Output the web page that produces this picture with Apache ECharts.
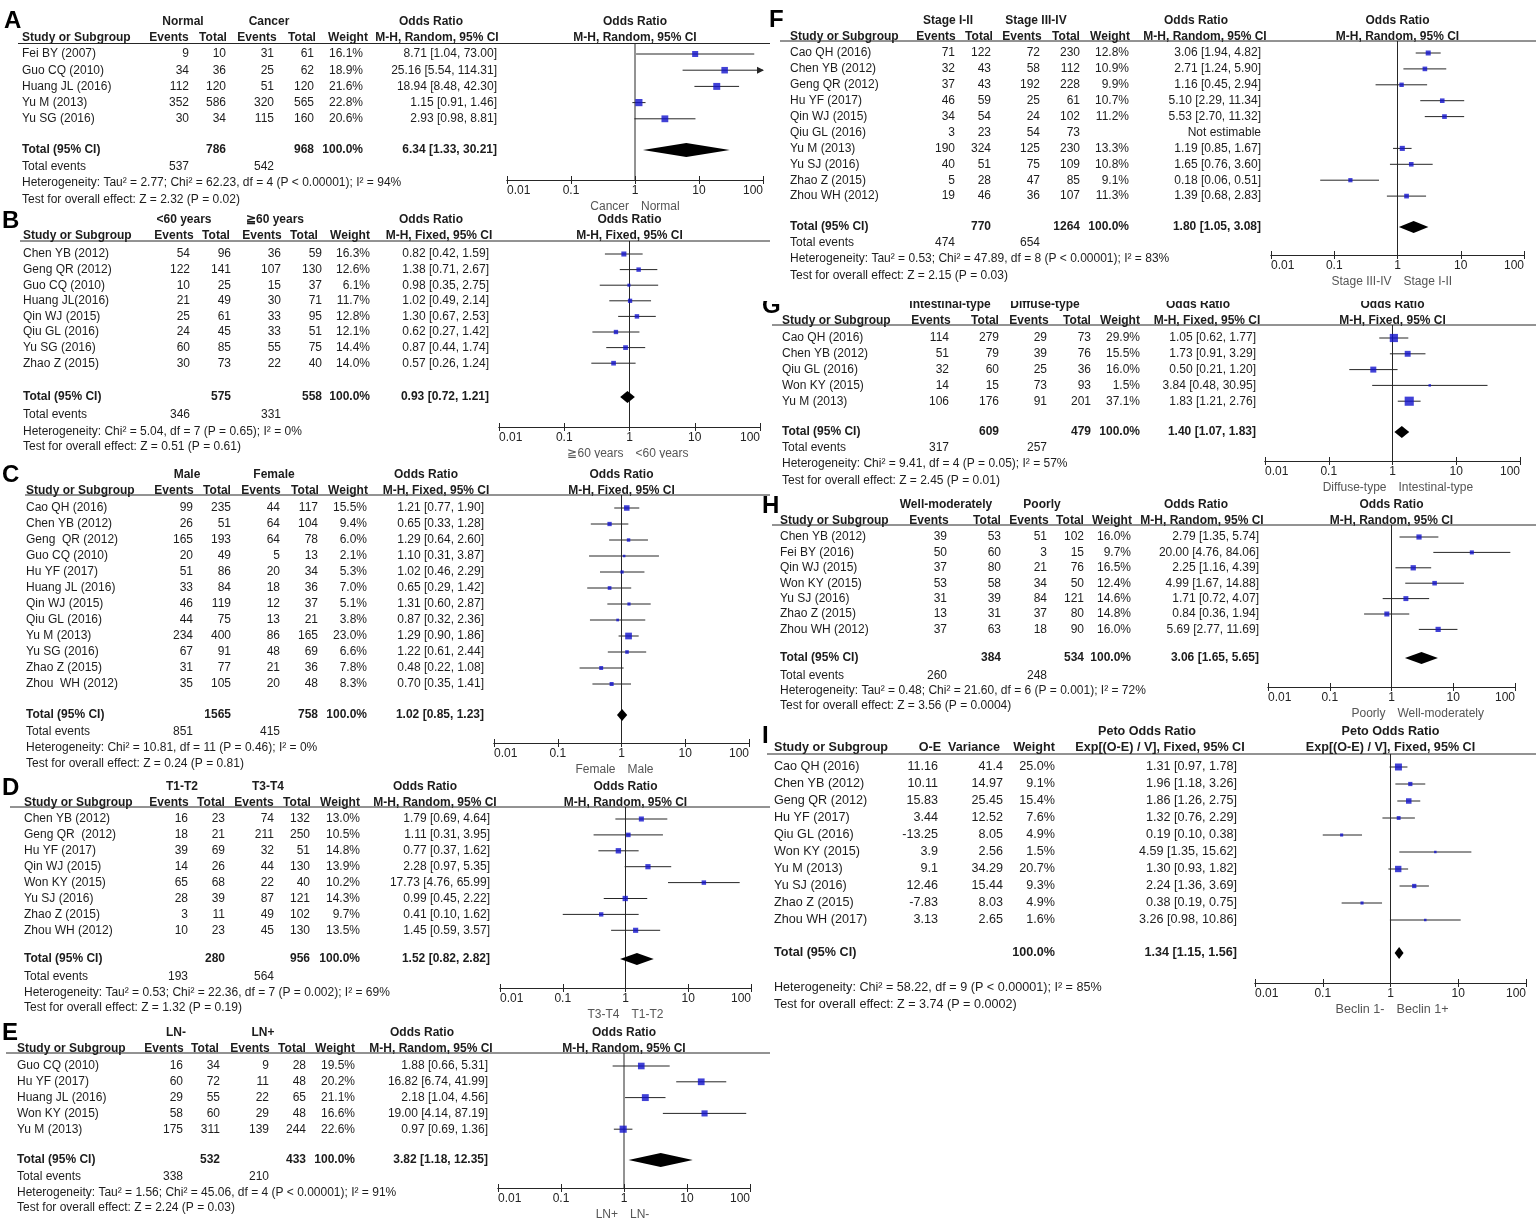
<!DOCTYPE html>
<html><head><meta charset="utf-8">
<script src="https://cdn.jsdelivr.net/npm/echarts@6/dist/echarts.min.js"></script>
<style>html,body{margin:0;padding:0;background:#fff}#c{width:1536px;height:1221px}</style>
</head><body><div id="c"></div>
<script>
// ---------- tick labels ----------
const tickLabels = ['0.01', '0.1', '1', '10', '100'];
const nullOR = 1;

// ---------- Panel A ----------
const A_studies = ['Fei BY (2007)', 'Guo CQ (2010)', 'Huang JL (2016)', 'Yu M (2013)', 'Yu SG (2016)'];
const A_ev1 = [9, 34, 112, 352, 30];
const A_tot1 = [10, 36, 120, 586, 34];
const A_ev2 = [31, 25, 51, 320, 115];
const A_tot2 = [61, 62, 120, 565, 160];
const A_weight = [16.1, 18.9, 21.6, 22.8, 20.6];
const A_or = [8.71, 25.16, 18.94, 1.15, 2.93];
const A_lo = [1.04, 5.54, 8.48, 0.91, 0.98];
const A_hi = [73.00, 114.31, 42.30, 1.46, 8.81];
const A_total = [786, 968, 6.34, 1.33, 30.21];
const A_events = [537, 542];

// ---------- Panel B ----------
const B_studies = ['Chen YB (2012)', 'Geng QR (2012)', 'Guo CQ (2010)', 'Huang JL(2016)', 'Qin WJ (2015)', 'Qiu GL (2016)', 'Yu SG (2016)', 'Zhao Z (2015)'];
const B_ev1 = [54, 122, 10, 21, 25, 24, 60, 30];
const B_tot1 = [96, 141, 25, 49, 61, 45, 85, 73];
const B_ev2 = [36, 107, 15, 30, 33, 33, 55, 22];
const B_tot2 = [59, 130, 37, 71, 95, 51, 75, 40];
const B_weight = [16.3, 12.6, 6.1, 11.7, 12.8, 12.1, 14.4, 14.0];
const B_or = [0.82, 1.38, 0.98, 1.02, 1.30, 0.62, 0.87, 0.57];
const B_lo = [0.42, 0.71, 0.35, 0.49, 0.67, 0.27, 0.44, 0.26];
const B_hi = [1.59, 2.67, 2.75, 2.14, 2.53, 1.42, 1.74, 1.24];
const B_total = [575, 558, 0.93, 0.72, 1.21];
const B_events = [346, 331];

// ---------- Panel C ----------
const C_studies = ['Cao QH (2016)', 'Chen YB (2012)', 'Geng  QR (2012)', 'Guo CQ (2010)', 'Hu YF (2017)', 'Huang JL (2016)', 'Qin WJ (2015)', 'Qiu GL (2016)', 'Yu M (2013)', 'Yu SG (2016)', 'Zhao Z (2015)', 'Zhou  WH (2012)'];
const C_ev1 = [99, 26, 165, 20, 51, 33, 46, 44, 234, 67, 31, 35];
const C_tot1 = [235, 51, 193, 49, 86, 84, 119, 75, 400, 91, 77, 105];
const C_ev2 = [44, 64, 64, 5, 20, 18, 12, 13, 86, 48, 21, 20];
const C_tot2 = [117, 104, 78, 13, 34, 36, 37, 21, 165, 69, 36, 48];
const C_weight = [15.5, 9.4, 6.0, 2.1, 5.3, 7.0, 5.1, 3.8, 23.0, 6.6, 7.8, 8.3];
const C_or = [1.21, 0.65, 1.29, 1.10, 1.02, 0.65, 1.31, 0.87, 1.29, 1.22, 0.48, 0.70];
const C_lo = [0.77, 0.33, 0.64, 0.31, 0.46, 0.29, 0.60, 0.32, 0.90, 0.61, 0.22, 0.35];
const C_hi = [1.90, 1.28, 2.60, 3.87, 2.29, 1.42, 2.87, 2.36, 1.86, 2.44, 1.08, 1.41];
const C_total = [1565, 758, 1.02, 0.85, 1.23];
const C_events = [851, 415];

// ---------- Panel D ----------
const D_studies = ['Chen YB (2012)', 'Geng QR  (2012)', 'Hu YF (2017)', 'Qin WJ (2015)', 'Won KY (2015)', 'Yu SJ (2016)', 'Zhao Z (2015)', 'Zhou WH (2012)'];
const D_ev1 = [16, 18, 39, 14, 65, 28, 3, 10];
const D_tot1 = [23, 21, 69, 26, 68, 39, 11, 23];
const D_ev2 = [74, 211, 32, 44, 22, 87, 49, 45];
const D_tot2 = [132, 250, 51, 130, 40, 121, 102, 130];
const D_weight = [13.0, 10.5, 14.8, 13.9, 10.2, 14.3, 9.7, 13.5];
const D_or = [1.79, 1.11, 0.77, 2.28, 17.73, 0.99, 0.41, 1.45];
const D_lo = [0.69, 0.31, 0.37, 0.97, 4.76, 0.45, 0.10, 0.59];
const D_hi = [4.64, 3.95, 1.62, 5.35, 65.99, 2.22, 1.62, 3.57];
const D_total = [280, 956, 1.52, 0.82, 2.82];
const D_events = [193, 564];

// ---------- Panel E ----------
const E_studies = ['Guo CQ (2010)', 'Hu YF (2017)', 'Huang JL (2016)', 'Won KY (2015)', 'Yu M (2013)'];
const E_ev1 = [16, 60, 29, 58, 175];
const E_tot1 = [34, 72, 55, 60, 311];
const E_ev2 = [9, 11, 22, 29, 139];
const E_tot2 = [28, 48, 65, 48, 244];
const E_weight = [19.5, 20.2, 21.1, 16.6, 22.6];
const E_or = [1.88, 16.82, 2.18, 19.00, 0.97];
const E_lo = [0.66, 6.74, 1.04, 4.14, 0.69];
const E_hi = [5.31, 41.99, 4.56, 87.19, 1.36];
const E_total = [532, 433, 3.82, 1.18, 12.35];
const E_events = [338, 210];

// ---------- Panel F ----------
const F_studies = ['Cao QH (2016)', 'Chen YB (2012)', 'Geng QR (2012)', 'Hu YF (2017)', 'Qin WJ (2015)', 'Qiu GL (2016)', 'Yu M (2013)', 'Yu SJ (2016)', 'Zhao Z (2015)', 'Zhou WH (2012)'];
const F_ev1 = [71, 32, 37, 46, 34, 3, 190, 40, 5, 19];
const F_tot1 = [122, 43, 43, 59, 54, 23, 324, 51, 28, 46];
const F_ev2 = [72, 58, 192, 25, 24, 54, 125, 75, 47, 36];
const F_tot2 = [230, 112, 228, 61, 102, 73, 230, 109, 85, 107];
const F_weight = [12.8, 10.9, 9.9, 10.7, 11.2, null, 13.3, 10.8, 9.1, 11.3];
const F_or = [3.06, 2.71, 1.16, 5.10, 5.53, null, 1.19, 1.65, 0.18, 1.39];
const F_lo = [1.94, 1.24, 0.45, 2.29, 2.70, null, 0.85, 0.76, 0.06, 0.68];
const F_hi = [4.82, 5.90, 2.94, 11.34, 11.32, null, 1.67, 3.60, 0.51, 2.83];
const F_total = [770, 1264, 1.80, 1.05, 3.08];
const F_events = [474, 654];

// ---------- Panel G ----------
const G_studies = ['Cao QH (2016)', 'Chen YB (2012)', 'Qiu GL (2016)', 'Won KY (2015)', 'Yu M (2013)'];
const G_ev1 = [114, 51, 32, 14, 106];
const G_tot1 = [279, 79, 60, 15, 176];
const G_ev2 = [29, 39, 25, 73, 91];
const G_tot2 = [73, 76, 36, 93, 201];
const G_weight = [29.9, 15.5, 16.0, 1.5, 37.1];
const G_or = [1.05, 1.73, 0.50, 3.84, 1.83];
const G_lo = [0.62, 0.91, 0.21, 0.48, 1.21];
const G_hi = [1.77, 3.29, 1.20, 30.95, 2.76];
const G_total = [609, 479, 1.40, 1.07, 1.83];
const G_events = [317, 257];

// ---------- Panel H ----------
const H_studies = ['Chen YB (2012)', 'Fei BY (2016)', 'Qin WJ (2015)', 'Won KY (2015)', 'Yu SJ (2016)', 'Zhao Z (2015)', 'Zhou WH (2012)'];
const H_ev1 = [39, 50, 37, 53, 31, 13, 37];
const H_tot1 = [53, 60, 80, 58, 39, 31, 63];
const H_ev2 = [51, 3, 21, 34, 84, 37, 18];
const H_tot2 = [102, 15, 76, 50, 121, 80, 90];
const H_weight = [16.0, 9.7, 16.5, 12.4, 14.6, 14.8, 16.0];
const H_or = [2.79, 20.00, 2.25, 4.99, 1.71, 0.84, 5.69];
const H_lo = [1.35, 4.76, 1.16, 1.67, 0.72, 0.36, 2.77];
const H_hi = [5.74, 84.06, 4.39, 14.88, 4.07, 1.94, 11.69];
const H_total = [384, 534, 3.06, 1.65, 5.65];
const H_events = [260, 248];

// ---------- Panel I (Peto) ----------
const I_studies = ['Cao QH (2016)', 'Chen YB (2012)', 'Geng QR (2012)', 'Hu YF (2017)', 'Qiu GL (2016)', 'Won KY (2015)', 'Yu M (2013)', 'Yu SJ (2016)', 'Zhao Z (2015)', 'Zhou WH (2017)'];
const I_oe = [11.16, 10.11, 15.83, 3.44, -13.25, 3.9, 9.1, 12.46, -7.83, 3.13];
const I_var = [41.4, 14.97, 25.45, 12.52, 8.05, 2.56, 34.29, 15.44, 8.03, 2.65];
const I_weight = [25.0, 9.1, 15.4, 7.6, 4.9, 1.5, 20.7, 9.3, 4.9, 1.6];
const I_or = [1.31, 1.96, 1.86, 1.32, 0.19, 4.59, 1.30, 2.24, 0.38, 3.26];
const I_lo = [0.97, 1.18, 1.26, 0.76, 0.10, 1.35, 0.93, 1.36, 0.19, 0.98];
const I_hi = [1.78, 3.26, 2.75, 2.29, 0.38, 15.62, 1.82, 3.69, 0.75, 10.86];
const I_total = [1.34, 1.15, 1.56];

// ---------- texts ----------
const TXT = {
  A: {groups: ['Normal', 'Cancer'], method: 'M-H, Random, 95% CI', footer: ['Cancer', 'Normal'],
      het: 'Heterogeneity: Tau\u00B2 = 2.77; Chi\u00B2 = 62.23, df = 4 (P < 0.00001); I\u00B2 = 94%', test: 'Test for overall effect: Z = 2.32 (P = 0.02)'},
  B: {groups: ['<60 years', '\u226760 years'], method: 'M-H, Fixed, 95% CI', footer: ['\u226760 years', '<60 years'],
      het: 'Heterogeneity: Chi\u00B2 = 5.04, df = 7 (P = 0.65); I\u00B2 = 0%', test: 'Test for overall effect: Z = 0.51 (P = 0.61)'},
  C: {groups: ['Male', 'Female'], method: 'M-H, Fixed, 95% CI', footer: ['Female', 'Male'],
      het: 'Heterogeneity: Chi\u00B2 = 10.81, df = 11 (P = 0.46); I\u00B2 = 0%', test: 'Test for overall effect: Z = 0.24 (P = 0.81)'},
  D: {groups: ['T1-T2', 'T3-T4'], method: 'M-H, Random, 95% CI', footer: ['T3-T4', 'T1-T2'],
      het: 'Heterogeneity: Tau\u00B2 = 0.53; Chi\u00B2 = 22.36, df = 7 (P = 0.002); I\u00B2 = 69%', test: 'Test for overall effect: Z = 1.32 (P = 0.19)'},
  E: {groups: ['LN-', 'LN+'], method: 'M-H, Random, 95% CI', footer: ['LN+', 'LN-'],
      het: 'Heterogeneity: Tau\u00B2 = 1.56; Chi\u00B2 = 45.06, df = 4 (P < 0.00001); I\u00B2 = 91%', test: 'Test for overall effect: Z = 2.24 (P = 0.03)'},
  F: {groups: ['Stage I-II', 'Stage III-IV'], method: 'M-H, Random, 95% CI', footer: ['Stage III-IV', 'Stage I-II'],
      het: 'Heterogeneity: Tau\u00B2 = 0.53; Chi\u00B2 = 47.89, df = 8 (P < 0.00001); I\u00B2 = 83%', test: 'Test for overall effect: Z = 2.15 (P = 0.03)'},
  G: {groups: ['Intestinal-type', 'Diffuse-type'], method: 'M-H, Fixed, 95% CI', footer: ['Diffuse-type', 'Intestinal-type'],
      het: 'Heterogeneity: Chi\u00B2 = 9.41, df = 4 (P = 0.05); I\u00B2 = 57%', test: 'Test for overall effect: Z = 2.45 (P = 0.01)'},
  H: {groups: ['Well-moderately', 'Poorly'], method: 'M-H, Random, 95% CI', footer: ['Poorly', 'Well-moderately'],
      het: 'Heterogeneity: Tau\u00B2 = 0.48; Chi\u00B2 = 21.60, df = 6 (P = 0.001); I\u00B2 = 72%', test: 'Test for overall effect: Z = 3.56 (P = 0.0004)'},
  I: {title: 'Peto Odds Ratio', method: 'Exp[(O-E) / V], Fixed, 95% CI', footer: ['Beclin 1-', 'Beclin 1+'],
      het: 'Heterogeneity: Chi\u00B2 = 58.22, df = 9 (P < 0.00001); I\u00B2 = 85%', test: 'Test for overall effect: Z = 3.74 (P = 0.0002)'}
};

// ---------- layout (pixels) ----------
const LAYOUT = {
  A: {letter: [4, 21], left: 18, right: 770, h1: 22, h2: 38, line: 43.5, row0: 54, rowH: 16.2, totalY: 150, evY: 167, hetY: 183, testY: 200, axisY: 180, xmin: 507, xmax: 763, ms: 1.5, dh: 7, fs: 12,
      cols: {study: 22, ev1: 189, tot1: 226, ev2: 274, tot2: 314, wt: 363, ci: 497}, hdr: {g1: 183, g2: 269, or: 431, ev1: 169, tot1: 213, ev2: 257, tot2: 302, wt: 348, mh: 437}},
  B: {letter: [2, 221], left: 20, right: 770, h1: 220, h2: 236, line: 241, row0: 254, rowH: 15.6, totalY: 397, evY: 415, hetY: 432, testY: 447, axisY: 427, xmin: 499, xmax: 760, ms: 1.25, dh: 6, fs: 12,
      cols: {study: 23, ev1: 190, tot1: 231, ev2: 281, tot2: 322, wt: 370, ci: 489}, hdr: {g1: 184, g2: 275, or: 431, ev1: 174, tot1: 216, ev2: 262, tot2: 304, wt: 350, mh: 439}},
  C: {letter: [2, 475], left: 25, right: 770, h1: 475, h2: 491, line: 495, row0: 508, rowH: 16.0, totalY: 715, evY: 732, hetY: 748, testY: 764, axisY: 743, xmin: 494, xmax: 749, ms: 1.4, dh: 6, fs: 12,
      cols: {study: 26, ev1: 193, tot1: 231, ev2: 280, tot2: 318, wt: 367, ci: 484}, hdr: {g1: 187, g2: 274, or: 426, ev1: 174, tot1: 217, ev2: 261, tot2: 305, wt: 348, mh: 436}},
  D: {letter: [2, 788], left: 10, right: 770, h1: 787, h2: 803, line: 807, row0: 819, rowH: 15.9, totalY: 959, evY: 977, hetY: 993, testY: 1008, axisY: 988, xmin: 500, xmax: 751, ms: 1.4, dh: 6, fs: 12,
      cols: {study: 24, ev1: 188, tot1: 225, ev2: 274, tot2: 310, wt: 360, ci: 490}, hdr: {g1: 182, g2: 268, or: 425, ev1: 169, tot1: 211, ev2: 254, tot2: 297, wt: 340, mh: 435}},
  E: {letter: [2, 1033], left: 6, right: 770, h1: 1033, h2: 1049, line: 1053, row0: 1066, rowH: 15.8, totalY: 1160, evY: 1177, hetY: 1193, testY: 1208, axisY: 1188, xmin: 498, xmax: 750, ms: 1.5, dh: 7, fs: 12,
      cols: {study: 17, ev1: 183, tot1: 220, ev2: 269, tot2: 306, wt: 355, ci: 488}, hdr: {g1: 176, g2: 263, or: 422, ev1: 164, tot1: 205, ev2: 250, tot2: 292, wt: 335, mh: 431}},
  F: {letter: [769, 20], left: 780, right: 1536, h1: 21, h2: 37, line: 41, row0: 53, rowH: 15.9, totalY: 227, evY: 243, hetY: 259, testY: 276, axisY: 255, xmin: 1271, xmax: 1524, ms: 1.4, dh: 6, fs: 12,
      cols: {study: 790, ev1: 955, tot1: 991, ev2: 1040, tot2: 1080, wt: 1129, ci: 1261}, hdr: {g1: 948, g2: 1036, or: 1196, ev1: 936, tot1: 979, ev2: 1022, tot2: 1066, wt: 1110, mh: 1205}},
  G: {letter: [762, 306], left: 772, right: 1536, h1: 305, h2: 321, line: 325, row0: 338, rowH: 15.8, totalY: 432, evY: 448, hetY: 464, testY: 481, axisY: 461, xmin: 1265, xmax: 1520, ms: 1.5, dh: 6, fs: 12,
      cols: {study: 782, ev1: 949, tot1: 999, ev2: 1047, tot2: 1091, wt: 1140, ci: 1256}, hdr: {g1: 950, g2: 1045, or: 1198, ev1: 931, tot1: 985, ev2: 1029, tot2: 1077, wt: 1120, mh: 1207}},
  H: {letter: [762, 506], left: 772, right: 1536, h1: 505, h2: 521, line: 525, row0: 537, rowH: 15.4, totalY: 658, evY: 676, hetY: 691, testY: 706, axisY: 687, xmin: 1268, xmax: 1515, ms: 1.3, dh: 6, fs: 12,
      cols: {study: 780, ev1: 947, tot1: 1001, ev2: 1047, tot2: 1084, wt: 1131, ci: 1259}, hdr: {g1: 946, g2: 1042, or: 1196, ev1: 929, tot1: 987, ev2: 1029, tot2: 1070, wt: 1112, mh: 1202}},
  I: {letter: [762, 736], left: 767, right: 1536, h1: 732, h2: 748, line: 754, row0: 767, rowH: 17, totalY: 953, hetY: 988, testY: 1005, axisY: 983, xmin: 1255, xmax: 1526, ms: 1.4, dh: 6, fs: 12.6,
      cols: {study: 774, oe: 938, vr: 1003, wt: 1055, ci: 1237}, hdr: {or: 1147, oe: 930, vr: 974, wt: 1034, mh: 1160}}
};

// ---------- assemble ----------
const DICH = {
  A: {studies: A_studies, ev1: A_ev1, tot1: A_tot1, ev2: A_ev2, tot2: A_tot2, weight: A_weight, or: A_or, lo: A_lo, hi: A_hi, total: A_total, events: A_events},
  B: {studies: B_studies, ev1: B_ev1, tot1: B_tot1, ev2: B_ev2, tot2: B_tot2, weight: B_weight, or: B_or, lo: B_lo, hi: B_hi, total: B_total, events: B_events},
  C: {studies: C_studies, ev1: C_ev1, tot1: C_tot1, ev2: C_ev2, tot2: C_tot2, weight: C_weight, or: C_or, lo: C_lo, hi: C_hi, total: C_total, events: C_events},
  D: {studies: D_studies, ev1: D_ev1, tot1: D_tot1, ev2: D_ev2, tot2: D_tot2, weight: D_weight, or: D_or, lo: D_lo, hi: D_hi, total: D_total, events: D_events},
  E: {studies: E_studies, ev1: E_ev1, tot1: E_tot1, ev2: E_ev2, tot2: E_tot2, weight: E_weight, or: E_or, lo: E_lo, hi: E_hi, total: E_total, events: E_events},
  F: {studies: F_studies, ev1: F_ev1, tot1: F_tot1, ev2: F_ev2, tot2: F_tot2, weight: F_weight, or: F_or, lo: F_lo, hi: F_hi, total: F_total, events: F_events},
  G: {studies: G_studies, ev1: G_ev1, tot1: G_tot1, ev2: G_ev2, tot2: G_tot2, weight: G_weight, or: G_or, lo: G_lo, hi: G_hi, total: G_total, events: G_events},
  H: {studies: H_studies, ev1: H_ev1, tot1: H_tot1, ev2: H_ev2, tot2: H_tot2, weight: H_weight, or: H_or, lo: H_lo, hi: H_hi, total: H_total, events: H_events}
};

const FONT = '"Liberation Sans", Arial, Helvetica, sans-serif';
const TEXT_COLOR = '#1c1c1c';
const LINE_COLOR = '#262626';
const BLUE = '#1212cc';
const graphics = [];
function txt(s, x, y, align, o) {
  o = o || {};
  graphics.push({type: 'text', silent: true, z: 20,
    style: {text: String(s), x: x, y: y, fill: o.color || TEXT_COLOR,
      font: (o.bold ? 'bold ' : '') + (o.size || 12) + 'px ' + FONT,
      align: align, verticalAlign: 'middle', textAlign: align, textVerticalAlign: 'middle'}});
}
function hline(x1, x2, y) {
  graphics.push({type: 'line', silent: true, z: 20, shape: {x1: x1, y1: y, x2: x2, y2: y}, style: {stroke: LINE_COLOR, lineWidth: 1}});
}
function f2(v) { return v.toFixed(2); }
function ciText(o, l, h) { return f2(o) + ' [' + f2(l) + ', ' + f2(h) + ']'; }

const option = {animation: false, backgroundColor: '#fff', grid: [], xAxis: [], yAxis: [], series: [], graphic: {elements: graphics}};

function addPlot(key, L, rows, totals) {
  const gi = option.grid.length;
  option.grid.push({left: L.xmin, top: L.line, width: L.xmax - L.xmin, height: L.axisY - L.line, containLabel: false});
  // thin helper grid whose top edge sits on the axis line: carries the upward tick marks
  option.grid.push({left: L.xmin, top: L.axisY, width: L.xmax - L.xmin, height: 1, containLabel: false});
  const axBase = {type: 'log', logBase: 10, min: 0.01, max: 100, splitLine: {show: false},
    axisLine: {show: true, onZero: false, lineStyle: {color: LINE_COLOR, width: 1}}};
  const xi = option.xAxis.length;
  option.xAxis.push(Object.assign({}, axBase, {gridIndex: gi, position: 'bottom',
    axisTick: {show: true, inside: false, length: 4, lineStyle: {color: LINE_COLOR, width: 1}},
    axisLabel: {show: true, fontSize: 12, fontFamily: FONT, color: '#222', margin: 5,
      alignMinLabel: 'left', alignMaxLabel: 'right',
      formatter: function (v) { return tickLabels[Math.round(Math.log10(v)) + 2]; }}
  }));
  option.xAxis.push(Object.assign({}, axBase, {gridIndex: gi + 1, position: 'top',
    axisTick: {show: true, inside: false, length: 4, lineStyle: {color: LINE_COLOR, width: 1}},
    axisLabel: {show: false}
  }));
  const yi = option.yAxis.length;
  option.yAxis.push({type: 'value', gridIndex: gi, inverse: true, show: false,
    axisLine: {onZero: false},
    min: (L.line - L.row0) / L.rowH, max: (L.axisY - L.row0) / L.rowH});
  option.yAxis.push({type: 'value', gridIndex: gi + 1, show: false, axisLine: {onZero: false}, min: 0, max: 1});

  // null line
  option.series.push({type: 'custom', xAxisIndex: xi, yAxisIndex: yi, silent: true, z: 2, clip: false,
    data: [[nullOR, 0]], encode: {x: 0, y: 1},
    renderItem: function (params, api) {
      const cs = params.coordSys;
      const p = api.coord([api.value(0), 0]);
      return {type: 'line', shape: {x1: p[0], y1: cs.y, x2: p[0], y2: cs.y + cs.height}, style: {stroke: LINE_COLOR, lineWidth: 1}};
    }});
  // CI lines
  option.series.push({type: 'custom', xAxisIndex: xi, yAxisIndex: yi, silent: true, z: 3, clip: false,
    data: rows.map(r => [r.lo, r.hi, r.i]), encode: {x: [0, 1], y: 2},
    renderItem: function (params, api) {
      const lo = api.value(0), hi = api.value(1), r = api.value(2);
      const p1 = api.coord([Math.max(lo, 0.01), r]);
      const p2 = api.coord([Math.min(hi, 100), r]);
      const ch = [{type: 'line', shape: {x1: p1[0], y1: p1[1], x2: p2[0], y2: p2[1]}, style: {stroke: LINE_COLOR, lineWidth: 1}}];
      if (hi > 100) ch.push({type: 'polygon', shape: {points: [[p2[0] + 1, p2[1]], [p2[0] - 6, p2[1] - 3.5], [p2[0] - 6, p2[1] + 3.5]]}, style: {fill: LINE_COLOR}});
      return {type: 'group', children: ch};
    }});
  // squares
  option.series.push({type: 'scatter', xAxisIndex: xi, yAxisIndex: yi, silent: true, z: 4, symbol: 'rect',
    data: rows.map(r => [r.or, r.i, r.w]),
    symbolSize: function (v) { return Math.max(2.5, L.ms * Math.sqrt(v[2])); },
    itemStyle: {color: BLUE}});
  // diamond
  const tr = (L.totalY - L.row0) / L.rowH;
  option.series.push({type: 'custom', xAxisIndex: xi, yAxisIndex: yi, silent: true, z: 5, clip: false,
    data: [[totals.lo, totals.or, totals.hi, tr]], encode: {x: [0, 1, 2], y: 3},
    renderItem: function (params, api) {
      const a = api.coord([api.value(0), api.value(3)]);
      const b = api.coord([api.value(1), api.value(3)]);
      const c = api.coord([api.value(2), api.value(3)]);
      const h = L.dh;
      return {type: 'polygon', shape: {points: [[a[0], a[1]], [b[0], b[1] - h], [c[0], c[1]], [b[0], b[1] + h]]}, style: {fill: '#000'}};
    }});

  const x1 = L.xmin + (L.xmax - L.xmin) / 2;
  const ft = TXT[key].footer;
  txt(ft[0], x1 - 6, L.axisY + 27, 'right', {color: '#555', size: L.fs});
  txt(ft[1], x1 + 6, L.axisY + 27, 'left', {color: '#555', size: L.fs});
  return x1;
}

Object.keys(DICH).forEach(function (key) {
  const d = DICH[key], L = LAYOUT[key], T = TXT[key], c = L.cols, h = L.hdr, fs = L.fs;
  const rows = [];
  d.studies.forEach(function (s, i) {
    if (d.or[i] != null) rows.push({i: i, or: d.or[i], lo: d.lo[i], hi: d.hi[i], w: d.weight[i]});
  });
  const x1 = addPlot(key, L, rows, {or: d.total[2], lo: d.total[3], hi: d.total[4]});
  const B = {bold: true, size: fs}, N = {size: fs};
  txt(key, L.letter[0], L.letter[1], 'left', {bold: true, size: 24, color: '#000'});
  txt(T.groups[0], h.g1, L.h1, 'center', B);
  txt(T.groups[1], h.g2, L.h1, 'center', B);
  txt('Odds Ratio', h.or, L.h1, 'center', B);
  txt('Odds Ratio', x1, L.h1, 'center', B);
  txt('Study or Subgroup', c.study, L.h2, 'left', B);
  txt('Events', h.ev1, L.h2, 'center', B);
  txt('Total', h.tot1, L.h2, 'center', B);
  txt('Events', h.ev2, L.h2, 'center', B);
  txt('Total', h.tot2, L.h2, 'center', B);
  txt('Weight', h.wt, L.h2, 'center', B);
  txt(T.method, h.mh, L.h2, 'center', B);
  txt(T.method, x1, L.h2, 'center', B);
  hline(L.left, L.right, L.line);
  d.studies.forEach(function (s, i) {
    const y = L.row0 + i * L.rowH;
    txt(s, c.study, y, 'left', N);
    txt(d.ev1[i], c.ev1, y, 'right', N);
    txt(d.tot1[i], c.tot1, y, 'right', N);
    txt(d.ev2[i], c.ev2, y, 'right', N);
    txt(d.tot2[i], c.tot2, y, 'right', N);
    if (d.or[i] != null) {
      txt(d.weight[i].toFixed(1) + '%', c.wt, y, 'right', N);
      txt(ciText(d.or[i], d.lo[i], d.hi[i]), c.ci, y, 'right', N);
    } else {
      txt('Not estimable', c.ci, y, 'right', N);
    }
  });
  txt('Total (95% CI)', c.study, L.totalY, 'left', B);
  txt(d.total[0], c.tot1, L.totalY, 'right', B);
  txt(d.total[1], c.tot2, L.totalY, 'right', B);
  txt('100.0%', c.wt, L.totalY, 'right', B);
  txt(ciText(d.total[2], d.total[3], d.total[4]), c.ci, L.totalY, 'right', B);
  txt('Total events', c.study, L.evY, 'left', N);
  txt(d.events[0], c.ev1, L.evY, 'right', N);
  txt(d.events[1], c.ev2, L.evY, 'right', N);
  txt(T.het, c.study, L.hetY, 'left', N);
  txt(T.test, c.study, L.testY, 'left', N);
});

// Panel I
(function () {
  const L = LAYOUT.I, T = TXT.I, c = L.cols, h = L.hdr, fs = L.fs;
  const B = {bold: true, size: fs}, N = {size: fs};
  const rows = I_studies.map((s, i) => ({i: i, or: I_or[i], lo: I_lo[i], hi: I_hi[i], w: I_weight[i]}));
  const x1 = addPlot('I', L, rows, {or: I_total[0], lo: I_total[1], hi: I_total[2]});
  txt('I', L.letter[0], L.letter[1], 'left', {bold: true, size: 24, color: '#000'});
  txt(T.title, h.or, L.h1, 'center', B);
  txt(T.title, x1, L.h1, 'center', B);
  txt('Study or Subgroup', c.study, L.h2, 'left', B);
  txt('O-E', h.oe, L.h2, 'center', B);
  txt('Variance', h.vr, L.h2, 'center', B);
  txt('Weight', h.wt, L.h2, 'center', B);
  txt(T.method, h.mh, L.h2, 'center', B);
  txt(T.method, x1, L.h2, 'center', B);
  hline(L.left, L.right, L.line);
  I_studies.forEach(function (s, i) {
    const y = L.row0 + i * L.rowH;
    txt(s, c.study, y, 'left', N);
    txt(String(I_oe[i]), c.oe, y, 'right', N);
    txt(String(I_var[i]), c.vr, y, 'right', N);
    txt(I_weight[i].toFixed(1) + '%', c.wt, y, 'right', N);
    txt(ciText(I_or[i], I_lo[i], I_hi[i]), c.ci, y, 'right', N);
  });
  txt('Total (95% CI)', c.study, L.totalY, 'left', B);
  txt('100.0%', c.wt, L.totalY, 'right', B);
  txt(ciText(I_total[0], I_total[1], I_total[2]), c.ci, L.totalY, 'right', B);
  txt(T.het, c.study, L.hetY, 'left', N);
  txt(T.test, c.study, L.testY, 'left', N);
})();

// crop edges of the original composite (white masks)
graphics.push({type: 'rect', silent: true, z: 30, shape: {x: 755, y: 290, width: 781, height: 11}, style: {fill: '#fff'}});
graphics.push({type: 'rect', silent: true, z: 30, shape: {x: 490, y: 458, width: 280, height: 6}, style: {fill: '#fff'}});
graphics.push({type: 'rect', silent: true, z: 30, shape: {x: 490, y: 774, width: 280, height: 5}, style: {fill: '#fff'}});

const chart = echarts.init(document.getElementById('c'), null, {renderer: 'canvas'});
chart.setOption(option);
</script>
</body></html>
